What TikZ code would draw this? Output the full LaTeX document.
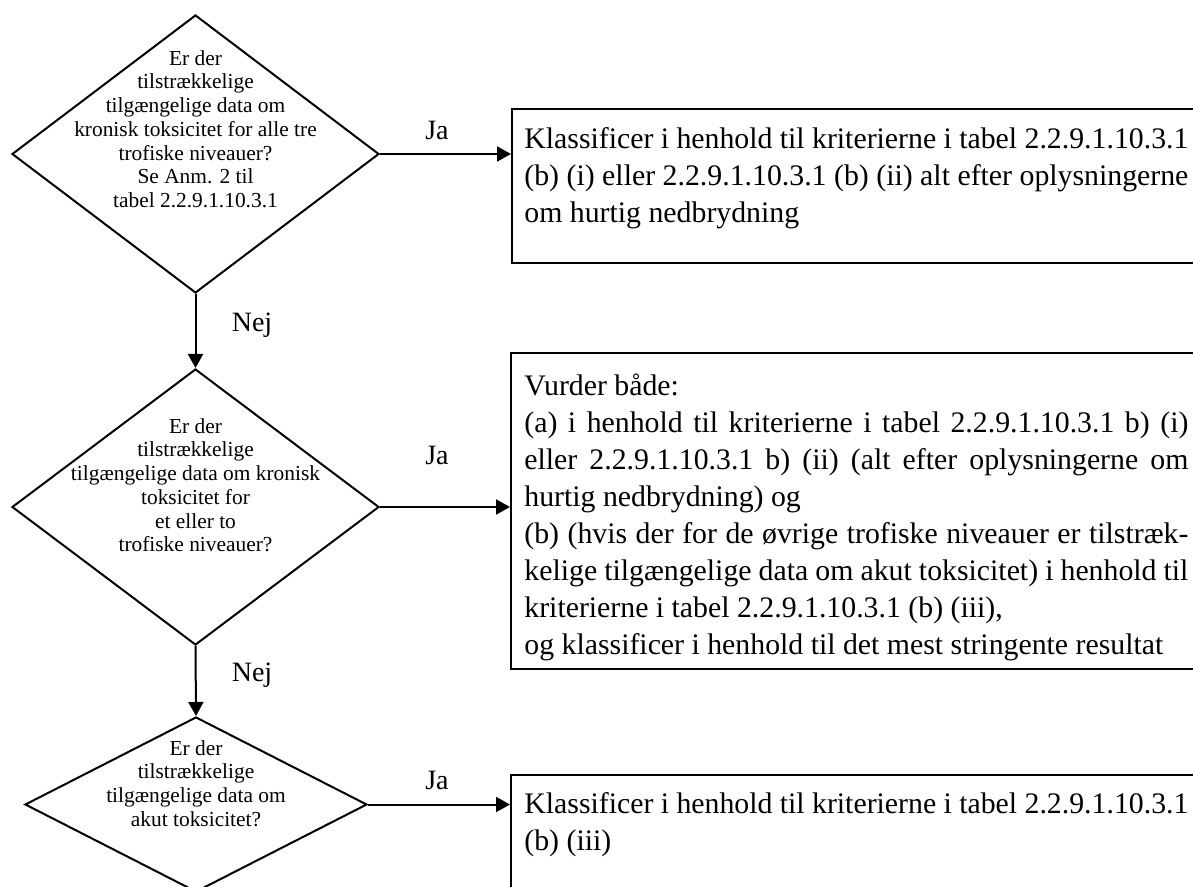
\documentclass[tikz,border=0pt]{standalone}
\usepackage{fontspec}
\setmainfont{Liberation Serif}
\usetikzlibrary{shapes.geometric,arrows.meta}
\begin{document}
\begin{tikzpicture}[x=0.5pt,y=-0.5pt,
  dia/.style={draw, line width=1pt, shape=diamond, inner sep=0pt},
  dtxt/.style={align=center, inner sep=0pt, anchor=north, font=\fontsize{10.7}{11.85}\selectfont},
  box/.style={draw, line width=1pt, rectangle, inner sep=0pt},
  btxt/.style={anchor=north west, inner sep=0pt, text width=332pt, align=justify,
     font=\fontsize{14.9}{18.5}\selectfont},
  lbl/.style={inner sep=0pt, font=\fontsize{14}{16}\selectfont},
  arr/.style={line width=1pt, -{Triangle[length=7pt,width=7.5pt]}}]
\useasboundingbox (0,0) rectangle (1193,887);
% decisions
\node[dia, minimum width=183.5pt, minimum height=139pt] (d1) at (195.5,154) {};
\node[dia, minimum width=183.5pt, minimum height=138pt] (d2) at (195.5,507) {};
\node[dia, minimum width=171pt, minimum height=87.5pt] (d3) at (196,804.5) {};
\node[dtxt] (d1t) at (195.5,50) {Er der\\tilstrækkelige\\tilgængelige data om\\kronisk toksicitet for alle tre\\trofiske niveauer?\\Se Anm. 2 til\\tabel 2.2.9.1.10.3.1};
\node[dtxt] (d2t) at (195.5,418) {Er der\\tilstrækkelige\\tilgængelige data om kronisk\\toksicitet for\\et eller to\\trofiske niveauer?};
\node[dtxt] (d3t) at (196,740) {Er der\\tilstrækkelige\\tilgængelige data om\\akut toksicitet?};
% result boxes
\node[box, minimum width=354pt, minimum height=77pt] (b1) at (866,186) {};
\node[box, minimum width=354.5pt, minimum height=158pt] (b2) at (865.5,511) {};
\node[box, minimum width=354.5pt, minimum height=90pt] (b3) at (865.5,865) {};
\node[btxt] (b1t) at (524,127) {Klassificer i henhold til kriterierne i tabel 2.2.9.1.10.3.1\linebreak
(b) (i) eller 2.2.9.1.10.3.1 (b) (ii) alt efter oplysningerne\linebreak
om hurtig nedbrydning};
\node[btxt] (b2t) at (524,374) {Vurder både:\newline
(a) i henhold til kriterierne i tabel 2.2.9.1.10.3.1 b) (i)\linebreak
eller 2.2.9.1.10.3.1 b) (ii) (alt efter oplysningerne om\linebreak
hurtig nedbrydning) og\newline
(b) (hvis der for de øvrige trofiske niveauer er tilstræk-\linebreak
kelige tilgængelige data om akut toksicitet) i henhold til\linebreak
kriterierne i tabel 2.2.9.1.10.3.1 (b) (iii),\newline
og klassificer i henhold til det mest stringente resultat};
\node[btxt] (b3t) at (524,792) {Klassificer i henhold til kriterierne i tabel 2.2.9.1.10.3.1\linebreak
(b) (iii)};
% connectors
\draw[arr] (d1.south) -- (d2.north);
\draw[arr] (d2.south) -- (d3.north);
\draw[arr] (d1.east) -- (d1.east -| b1.west);
\draw[arr] (d2.east) -- (d2.east -| b2.west);
\draw[arr] (d3.east) -- (d3.east -| b3.west);
% labels
\node[lbl] (n1) at (252,325) {Nej};
\node[lbl] (n2) at (252,675) {Nej};
\node[lbl] (j1) at (437,130) {Ja};
\node[lbl] (j2) at (437,455) {Ja};
\node[lbl] (j3) at (437,780) {Ja};
\end{tikzpicture}
\end{document}
